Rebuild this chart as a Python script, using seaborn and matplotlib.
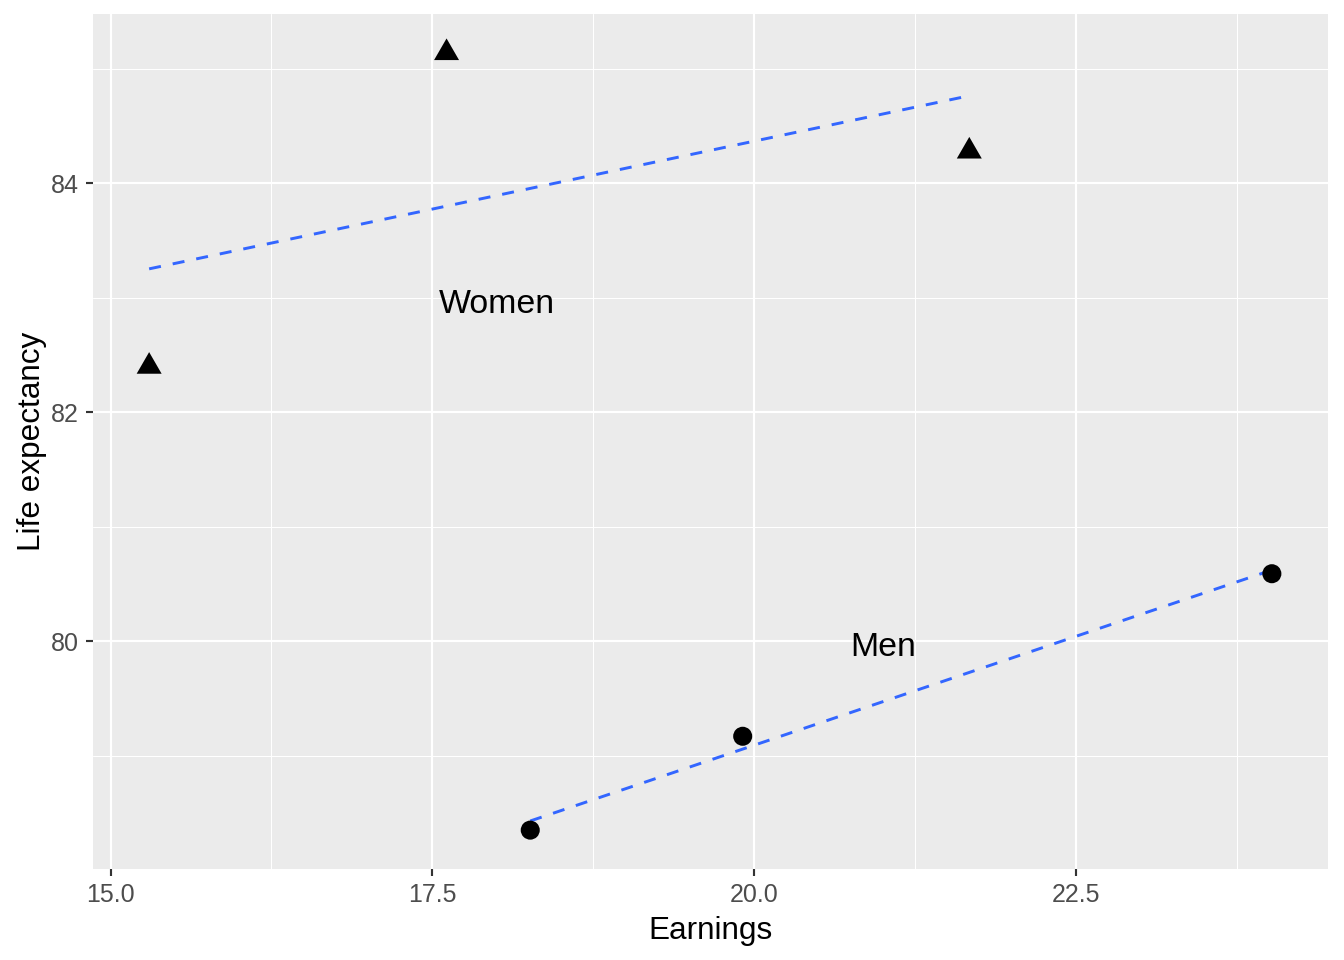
import numpy as np
import pandas as pd
import matplotlib
matplotlib.use("Agg")
import matplotlib.pyplot as plt
import matplotlib.transforms as mtransforms
import seaborn as sns
from matplotlib.ticker import MultipleLocator, FixedLocator

# ---- data ----
group = ["Women", "Women", "Women", "Men", "Men", "Men"]
earnings = [15.30, 17.61, 21.67, 18.26, 19.91, 24.02]
life_exp = [82.40, 85.14, 84.28, 78.35, 79.17, 80.59]

label_names = ["Women", "Men"]
label_x = [18.0, 21.0]
label_y = [83.0, 80.0]

x_ticks = [15.0, 17.5, 20.0, 22.5]
x_tick_labels = ["15.0", "17.5", "20.0", "22.5"]
y_ticks = [80, 82, 84]
y_tick_labels = ["80", "82", "84"]

df = pd.DataFrame({"Group": group, "Earnings": earnings, "Life expectancy": life_exp})

sns.set_theme(style="darkgrid", rc={
    "axes.facecolor": "#EBEBEB",
    "grid.color": "white",
    "axes.edgecolor": "none",
})
plt.rcParams["font.family"] = ["Liberation Sans", "DejaVu Sans"]

W, H = 1344, 960
fig = plt.figure(figsize=(7, 5), dpi=192)
ax = fig.add_axes([93 / W, 1 - 869 / H, (1328 - 93) / W, (869 - 14) / H])

tri = [(0, 1), (-0.866, -0.5), (0.866, -0.5)]
sns.scatterplot(data=df, x="Earnings", y="Life expectancy", style="Group",
                markers={"Women": tri, "Men": "o"},
                size="Group", sizes={"Women": 117, "Men": 51},
                color="black", linewidth=0, legend=False, ax=ax, zorder=3)

for g in ["Women", "Men"]:
    sub = df[df["Group"] == g]
    sns.regplot(data=sub, x="Earnings", y="Life expectancy", scatter=False,
                ci=None, truncate=True, ax=ax,
                line_kws=dict(color="#3366FF", lw=1.1, dashes=(4.1, 4.1), zorder=2))

fs_lab = 12.7
txt_trans = mtransforms.offset_copy(ax.transData, fig=fig,
                                    y=-(0.358 * fs_lab + 1.1), units="points")
for name, tx, ty in zip(label_names, label_x, label_y):
    ax.text(tx, ty, name, ha="center", va="baseline", fontsize=fs_lab,
            color="black", transform=txt_trans)

# ggplot-like 5% expansion
xmin, xmax = min(earnings), max(earnings)
ymin, ymax = min(life_exp), max(life_exp)
xr, yr = xmax - xmin, ymax - ymin
ax.set_xlim(xmin - 0.05 * xr, xmax + 0.05 * xr)
ax.set_ylim(ymin - 0.05 * yr, ymax + 0.05 * yr)

ax.xaxis.set_major_locator(FixedLocator(x_ticks))
ax.set_xticklabels(x_tick_labels)
ax.yaxis.set_major_locator(FixedLocator(y_ticks))
ax.set_yticklabels(y_tick_labels)
ax.xaxis.set_minor_locator(MultipleLocator(1.25))
ax.yaxis.set_minor_locator(MultipleLocator(1))

ax.grid(which="major", color="white", linewidth=0.8)
ax.grid(which="minor", color="white", linewidth=0.4)
ax.set_axisbelow(True)

ax.tick_params(which="major", length=2.75, width=0.8, color="#333333",
               labelcolor="#4D4D4D", labelsize=9.4, pad=2.5,
               bottom=True, left=True)
ax.tick_params(which="minor", length=0)

for s in ax.spines.values():
    s.set_visible(False)

ax.set_xlabel("Earnings", fontsize=11.8, color="black", labelpad=3.5)
ax.set_ylabel("Life expectancy", fontsize=11.8, color="black", labelpad=1.5)

fig.savefig("out.png", dpi=192)
